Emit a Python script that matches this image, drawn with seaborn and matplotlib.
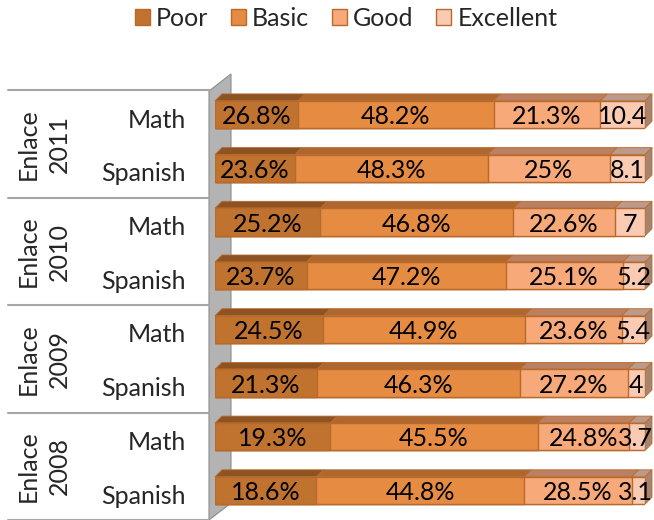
import matplotlib
matplotlib.use("Agg")
import matplotlib.pyplot as plt
import numpy as np
import pandas as pd
import seaborn as sns
from matplotlib.patches import Patch, Polygon
from matplotlib.transforms import ScaledTranslation, blended_transform_factory, offset_copy

YEARS = ["2011", "2010", "2009", "2008"]
SUBJECTS = ["Math", "Spanish"]
LEVELS = ["Poor", "Basic", "Good", "Excellent"]

# bar lengths as drawn (each row adds up to 100)
poor = [19.3, 18.6, 24.5, 21.3, 25.2, 23.7, 26.8, 23.6]
basic = [45.5, 44.8, 44.9, 46.3, 46.8, 47.2, 48.2, 48.3]
good = [24.8, 28.5, 23.6, 27.2, 22.6, 25.1, 21.3, 25.0]
excellent = [10.4, 8.1, 7.0, 5.2, 5.4, 4.0, 3.7, 3.1]

# data labels as printed on the chart
poor_labels = ["26.8%", "23.6%", "25.2%", "23.7%", "24.5%", "21.3%", "19.3%", "18.6%"]
basic_labels = ["48.2%", "48.3%", "46.8%", "47.2%", "44.9%", "46.3%", "45.5%", "44.8%"]
good_labels = ["21.3%", "25%", "22.6%", "25.1%", "23.6%", "27.2%", "24.8%", "28.5%"]
excellent_labels = ["10.4", "8.1", "7", "5.2", "5.4", "4", "3.7", "3.1"]

FACE = ["#C0722F", "#E68B42", "#F7A979", "#FACAB2"]
TOP = ["#8E5323", "#AE672F", "#BA8061", "#BC9A8A"]
SIDE = "#A8846F"
EDGE = "#B86A2C"
FS = 18
BAR_H = 0.51

sns.set_style("white")
plt.rcParams["font.family"] = ["Lato", "DejaVu Sans"]

rows = [f"{y} {s}" for y in YEARS for s in SUBJECTS]
df = pd.DataFrame({"row": rows, "Poor": poor, "Basic": basic, "Good": good, "Excellent": excellent})
cum = df[LEVELS].cumsum(axis=1)
cum["row"] = rows
labels = [poor_labels, basic_labels, good_labels, excellent_labels]

fig = plt.figure(figsize=(6.54, 5.2), dpi=100)
ax = fig.add_axes([215 / 654, 2.65 / 520, 430 / 654, 429.6 / 520])
ax.patch.set_alpha(0)

# stacked bars: draw cumulative totals, longest first
for j in reversed(range(len(LEVELS))):
    sns.barplot(data=cum, x=LEVELS[j], y="row", orient="y", color=FACE[j], saturation=1,
                edgecolor=EDGE, linewidth=1.0, width=BAR_H, ax=ax, zorder=3)

ax.set_xlim(0, 100)
ax.set_ylim(7.5, -0.5)

# 3d depth: 7 px right / 7 px up, converted to data units
o = ax.transData.transform((0, 0))
d = ax.transData.inverted().transform(o + np.array([7, 7]))
dx, dy = d[0], d[1]

value_texts = []
for i in range(len(rows)):
    ytop = i - BAR_H / 2
    ybot = i + BAR_H / 2
    left = 0.0
    for j, lev in enumerate(LEVELS):
        v = df.loc[i, lev]
        ax.add_patch(Polygon([(left, ytop), (left + v, ytop), (left + v + dx, ytop + dy), (left + dx, ytop + dy)],
                             facecolor=TOP[j], edgecolor=EDGE, linewidth=0.6, zorder=2, clip_on=False))
        t = ax.text(left + v / 2, i, labels[j][i], ha="center", va="center_baseline", fontsize=FS,
                    color="black", zorder=5)
        value_texts.append(t)
        left += v
    ax.add_patch(Polygon([(left, ytop), (left, ybot), (left + dx, ybot + dy), (left + dx, ytop + dy)],
                         facecolor=SIDE, edgecolor=EDGE, linewidth=0.6, zorder=2, clip_on=False))

ax.set_yticks(range(len(rows)))
ax.set_yticklabels(SUBJECTS * len(YEARS))
ax.tick_params(axis="y", length=0, pad=21, labelsize=FS)
# category labels sit on the band centre, a little below the 3d bar faces
shift = ScaledTranslation(0, -3.5 / 100, fig.dpi_scale_trans)
for lab in ax.get_yticklabels():
    lab.set_transform(lab.get_transform() + shift)
ax.set_xticks([])
ax.set_xlabel("")
ax.set_ylabel("")
sns.despine(ax=ax, left=True, bottom=True)

# left table: year groups and separator lines
tr = blended_transform_factory(fig.transFigure, ax.transData)
for k, yr in enumerate(YEARS):
    ax.text(44 / 654, 2 * k + 0.55, f"Enlace\n{yr}", rotation=90, ha="center", va="center",
            fontsize=FS, transform=tr, linespacing=1.4, clip_on=False)
for k in range(len(YEARS) + 1):
    ax.plot([8 / 654, 209 / 654], [2 * k - 0.45] * 2, transform=tr, color="#A5A5A5",
            linewidth=1.5, clip_on=False)

# back wall
wall = [(209, 520), (209, 91), (231, 74), (231, 503)]
fig.add_artist(Polygon([(x / 654, 1 - y / 520) for x, y in wall], transform=fig.transFigure,
                       facecolor="#B3B3B3", edgecolor="#8C8C8C", linewidth=0.8, zorder=-1))

handles = [Patch(facecolor=FACE[j], edgecolor=EDGE, label=LEVELS[j]) for j in range(len(LEVELS))]
fig.legend(handles=handles, loc="center", bbox_to_anchor=(346 / 654, 1 - 18 / 520), ncol=4,
           frameon=False, fontsize=FS, handlelength=0.6, handleheight=0.6,
           handletextpad=0.25, columnspacing=0.9)

# keep the small labels at the right end inside the picture
renderer = fig.canvas.get_renderer()
fig_w = fig.bbox.width
for t in value_texts:
    bb = t.get_window_extent(renderer)
    over = bb.x1 - (fig_w - 1)
    if over > 0:
        t.set_transform(offset_copy(t.get_transform(), fig=fig, x=-over, y=0, units="dots"))

fig.savefig("out.png", dpi=100)
